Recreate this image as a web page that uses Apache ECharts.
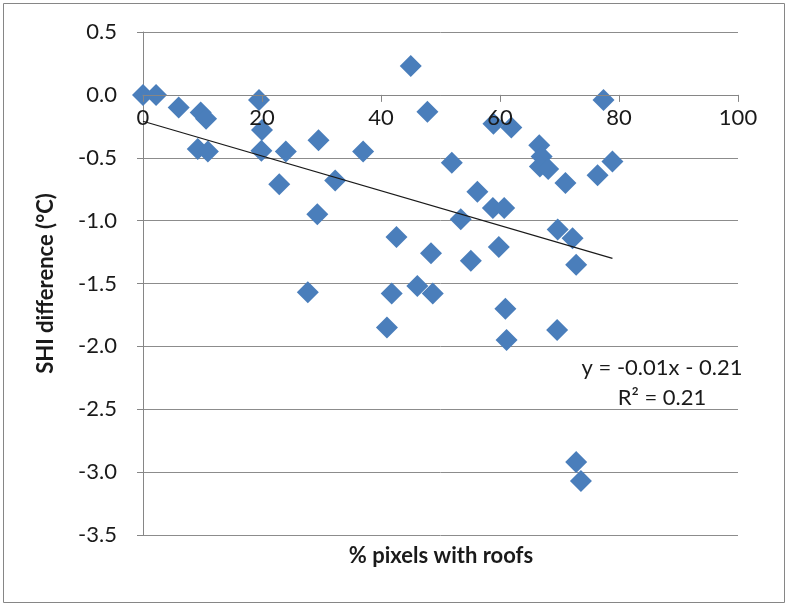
<!DOCTYPE html>
<html><head><meta charset="utf-8">
<script src="https://cdn.jsdelivr.net/npm/echarts@6/dist/echarts.min.js"></script>
<style>html,body{margin:0;padding:0;background:#fff}#c{width:788px;height:606px}</style>
</head><body><div id="c"></div>
<script>
const roofPct = [0, 2.2, 6, 9.7, 10.6, 9.2, 10.9, 19.5, 20, 19.9, 22.9, 24, 29.5, 32.3, 29.3, 27.7,
  37, 42.6, 41.8, 41, 45, 47.8, 46.1, 48.7, 48.4, 51.9, 53.4, 55.1, 56.2, 58.8, 60.7, 58.9, 61.9,
  59.8, 60.9, 61.1, 66.6, 67, 66.7, 68.1, 69.7, 69.6, 71, 72.2, 72.8, 72.8, 73.6, 76.4, 77.4, 78.9];
const shiDiff = [0, 0, -0.10, -0.14, -0.19, -0.43, -0.45, -0.04, -0.28, -0.445, -0.71, -0.45, -0.36, -0.68, -0.95, -1.57,
  -0.45, -1.13, -1.58, -1.85, 0.23, -0.135, -1.52, -1.58, -1.26, -0.54, -0.99, -1.32, -0.77, -0.90, -0.90, -0.23, -0.26,
  -1.21, -1.70, -1.95, -0.40, -0.49, -0.57, -0.59, -1.07, -1.87, -0.70, -1.14, -1.35, -2.92, -3.07, -0.64, -0.04, -0.53];
const trendX = [0, 78.9];
const trendY = [-0.21, -1.30];
const xTicks = [0, 20, 40, 60, 80, 100];
const yTicks = [0.5, 0.0, -0.5, -1.0, -1.5, -2.0, -2.5, -3.0, -3.5];
const eqText = 'y = -0.01x - 0.21';
const r2Text = 'R² = 0.21';
const xTitle = '% pixels with roofs';
const yTitle = 'SHI difference (°C)';

const chart = echarts.init(document.getElementById('c'));
const font = 'Lato, "Open Sans", sans-serif';
const yMin = yTicks[yTicks.length - 1], yMax = yTicks[0];
const plotTop = 32, plotBottom = 535;
// place x axis where y = 0 (as the original chart crosses at zero)
const zeroOffset = -(plotBottom - plotTop) * (0 - yMin) / (yMax - yMin);
chart.setOption({
  animation: false,
  backgroundColor: '#fff',
  grid: {left: 143, right: 50, top: plotTop, bottom: 606 - plotBottom},
  xAxis: {
    type: 'value', min: xTicks[0], max: xTicks[xTicks.length - 1], interval: 20,
    offset: zeroOffset, z: 5,
    axisLine: {onZero: false, lineStyle: {color: '#868686', width: 1}},
    axisTick: {show: true, length: 7, lineStyle: {color: '#868686'}},
    axisLabel: {fontFamily: font, fontSize: 22, color: '#1a1a1a', margin: 12},
    splitLine: {show: false}
  },
  yAxis: {
    type: 'value', min: yMin, max: yMax, interval: 0.5,
    name: yTitle, nameLocation: 'middle', nameGap: 86, nameRotate: 90,
    nameTextStyle: {fontFamily: font, fontSize: 22, fontWeight: 'bold', color: '#1a1a1a'},
    axisLine: {show: true, onZero: false, lineStyle: {color: '#868686', width: 1}},
    axisTick: {show: true, length: 6, lineStyle: {color: '#868686'}},
    axisLabel: {fontFamily: font, fontSize: 22, color: '#1a1a1a', margin: 26, formatter: v => v.toFixed(1)},
    splitLine: {show: true, lineStyle: {color: '#8c8c8c', width: 1}}
  },
  series: [
    {type: 'scatter', symbol: 'diamond', symbolSize: [22, 22],
     itemStyle: {color: '#4a7ebb', opacity: 1},
     data: roofPct.map((x, i) => [x, shiDiff[i]]), z: 3},
    {type: 'line', symbol: 'none', lineStyle: {color: '#1a1a1a', width: 1.2},
     data: trendX.map((x, i) => [x, trendY[i]]), z: 4, silent: true}
  ],
  graphic: [
    {type: 'rect', shape: {x: 3.5, y: 3.5, width: 781, height: 599}, style: {fill: 'none', stroke: '#868686', lineWidth: 1}, z: -1},
    {type: 'text', style: {text: eqText, x: 662, y: 368, textAlign: 'center', textVerticalAlign: 'middle', font: '22px ' + font, fill: '#1a1a1a'}, z: 10},
    {type: 'text', style: {text: r2Text, x: 662, y: 398, textAlign: 'center', textVerticalAlign: 'middle', font: '22px ' + font, fill: '#1a1a1a'}, z: 10},
    {type: 'text', style: {text: xTitle, x: 441, y: 556, textAlign: 'center', textVerticalAlign: 'middle', font: 'bold 22px ' + font, fill: '#1a1a1a'}, z: 10}
  ]
});
</script></body></html>
